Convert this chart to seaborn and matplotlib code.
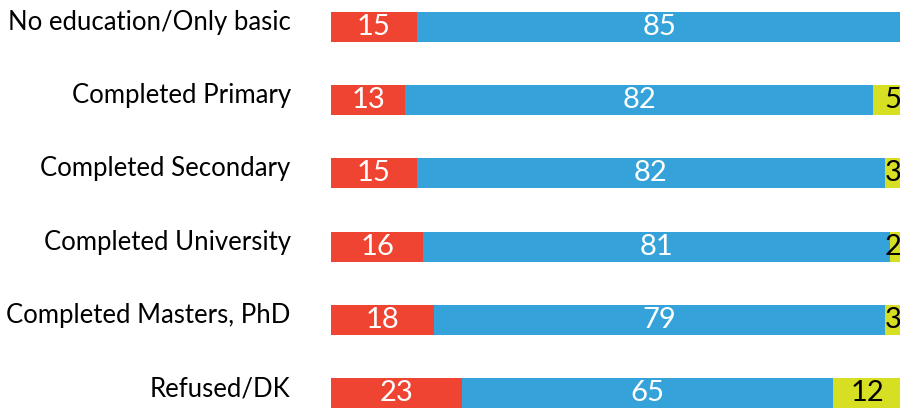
import matplotlib
matplotlib.use("Agg")
import matplotlib.pyplot as plt
import matplotlib.transforms as mtransforms
import pandas as pd
import numpy as np
import seaborn as sns

categories = [
    "No education/Only basic",
    "Completed Primary",
    "Completed Secondary",
    "Completed University",
    "Completed Masters, PhD",
    "Refused/DK",
]
red_vals = [15, 13, 15, 16, 18, 23]
blue_vals = [85, 82, 82, 81, 79, 65]
yellow_vals = [0, 5, 3, 2, 3, 12]

RED = "#F04432"
BLUE = "#35A3DA"
YELLOW = "#D6DF22"


def main():
    sns.set_theme(style="white")
    plt.rcParams["font.family"] = ["Lato", "DejaVu Sans"]

    df = pd.DataFrame({
        "category": categories,
        "red": red_vals,
        "blue": blue_vals,
        "yellow": yellow_vals,
    })
    # 100% stacked: scale each row to its own total
    tot = df["red"] + df["blue"] + df["yellow"]
    df["red_s"] = df["red"] / tot * 100
    df["red_blue_s"] = (df["red"] + df["blue"]) / tot * 100
    df["total_s"] = 100.0

    fig = plt.figure(figsize=(9, 4.09), dpi=100)
    ax = fig.add_axes([0.3678, 0.0, 0.634, 1.0])

    # overlay cumulative totals so the segments look stacked
    bw = 0.41
    sns.barplot(data=df, x="total_s", y="category", color=YELLOW, orient="h",
                width=bw, linewidth=0, saturation=1, ax=ax)
    sns.barplot(data=df, x="red_blue_s", y="category", color=BLUE, orient="h",
                width=bw, linewidth=0, saturation=1, ax=ax)
    sns.barplot(data=df, x="red_s", y="category", color=RED, orient="h",
                width=bw, linewidth=0, saturation=1, ax=ax)

    ax.set_xlim(0, 100)
    ax.set_ylim(5.219, -0.369)
    ax.set_xlabel("")
    ax.set_ylabel("")
    ax.set_xticks([])
    sns.despine(ax=ax, left=True, bottom=True)

    ax.tick_params(axis="y", length=0, pad=29, labelsize=18.5, labelcolor="black")
    offset = mtransforms.ScaledTranslation(0, 5 / 72, fig.dpi_scale_trans)
    for lab in ax.get_yticklabels():
        lab.set_transform(lab.get_transform() + offset)

    for i, row in df.iterrows():
        ax.text(row["red_s"] / 2, i, str(row["red"]), ha="center", va="center",
                color="white", fontsize=21)
        ax.text((row["red_s"] + row["red_blue_s"]) / 2, i, str(row["blue"]),
                ha="center", va="center", color="white", fontsize=21)
        if row["yellow"] >= 6:
            ax.text((row["red_blue_s"] + row["total_s"]) / 2, i,
                    str(row["yellow"]), ha="center", va="center",
                    color="black", fontsize=21)
        elif row["yellow"] > 0:
            # narrow segment: keep the number inside the right edge
            ax.text(row["total_s"], i, str(row["yellow"]), ha="right",
                    va="center", color="black", fontsize=21)

    fig.savefig("out.png", dpi=100)


if __name__ == "__main__":
    main()
